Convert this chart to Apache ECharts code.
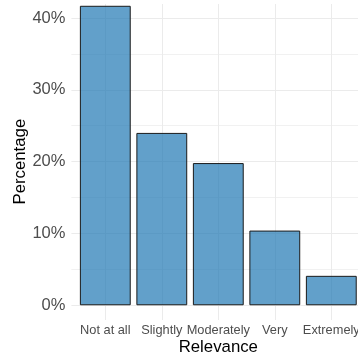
<!DOCTYPE html>
<html>
<head>
<meta charset="utf-8">
<script src="https://cdn.jsdelivr.net/npm/echarts@6/dist/echarts.min.js"></script>
<style>
html,body{margin:0;padding:0;background:#fff;}
#chart{width:358px;height:358px;}
</style>
</head>
<body>
<div id="chart"></div>
<script>
// Data
const categories = ['Not at all', 'Slightly', 'Moderately', 'Very', 'Extremely'];
const percentages = [41.7, 24.0, 19.8, 10.4, 4.1];
const yTickMin = 0;
const yTickMax = 40;
const yTickStep = 10;

const FONT = 'Liberation Sans, Arial, Helvetica, sans-serif';
const GRID_MAJOR = '#EBEBEB';
const GRID_MINOR = '#F1F1F1';

const chart = echarts.init(document.getElementById('chart'), null, {renderer: 'canvas'});

const option = {
  backgroundColor: '#ffffff',
  animation: false,
  textStyle: {fontFamily: FONT},
  grid: [
    // horizontal gridlines + y tick labels (0%..40% band)
    {left: 71.4, top: 18, width: 293.8, bottom: 52.7, containLabel: false, outerBoundsMode: 'none'},
    // bars, vertical gridlines, x labels (full panel height)
    {left: 105.3, right: 26.7, top: 4, bottom: 38, containLabel: false, outerBoundsMode: 'none'}
  ],
  xAxis: [
    {
      gridIndex: 0, type: 'value', min: 0, max: 1, show: false
    },
    {
      gridIndex: 1, type: 'category', data: categories, boundaryGap: false,
      axisLine: {show: false}, axisTick: {show: false},
      axisLabel: {color: '#4D4D4D', fontSize: 12.8, margin: 4, fontFamily: FONT, interval: 0},
      splitLine: {show: true, lineStyle: {color: GRID_MAJOR, width: 1}},
      name: 'Relevance', nameLocation: 'middle', nameGap: 19, nameMoveOverlap: false,
      nameTextStyle: {color: '#000', fontSize: 16.8, fontFamily: FONT, verticalAlign: 'top'}
    }
  ],
  yAxis: [
    {
      gridIndex: 0, type: 'value', min: yTickMin, max: yTickMax, interval: yTickStep,
      axisLine: {show: false}, axisTick: {show: false},
      axisLabel: {color: '#4D4D4D', fontSize: 16.5, margin: 6, fontFamily: FONT, formatter: '{value}%'},
      splitLine: {show: true, lineStyle: {color: GRID_MAJOR, width: 1}},
      minorTick: {show: false, splitNumber: 2},
      minorSplitLine: {show: true, lineStyle: {color: GRID_MINOR, width: 1}},
      name: 'Percentage', nameLocation: 'middle', nameGap: 43, nameRotate: 90, nameMoveOverlap: false,
      nameTextStyle: {color: '#000', fontSize: 16.8, fontFamily: FONT}
    },
    {
      gridIndex: 1, type: 'value', min: -2.05, max: 41.95, show: false
    }
  ],
  series: [
    {
      type: 'bar',
      xAxisIndex: 1, yAxisIndex: 1,
      data: percentages,
      barWidth: '90%',
      clip: false,
      itemStyle: {
        color: 'rgba(31,119,180,0.7)',
        borderColor: '#1a1a1a',
        borderWidth: 1
      },
      emphasis: {disabled: true}
    }
  ]
};

chart.setOption(option);
</script>
</body>
</html>
